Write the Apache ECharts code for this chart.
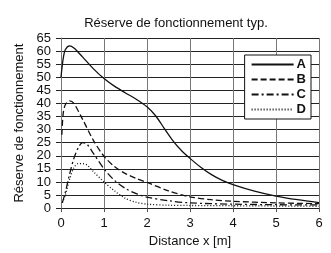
<!DOCTYPE html>
<html><head><meta charset="utf-8">
<script src="https://cdn.jsdelivr.net/npm/echarts@6/dist/echarts.min.js"></script>
<style>html,body{margin:0;padding:0;background:#fff}#c{width:331px;height:253px}</style>
</head><body><div id="c"></div>
<script>
var title = 'Réserve de fonctionnement typ.';
var xName = 'Distance x [m]';
var yName = 'Réserve de fonctionnement';
var seriesNames = ['A', 'B', 'C', 'D'];
var dataA = [[0,50],[0.05,57],[0.1,60.5],[0.2,62],[0.3,61.2],[0.5,57.8],[0.75,53.3],[1,49.5],[1.25,46.5],[1.5,44],[1.75,41.6],[2,38.7],[2.2,35.3],[2.4,30.5],[2.6,25.8],[2.8,22],[3,19],[3.25,15.6],[3.5,12.8],[3.75,10.6],[4,9],[4.5,6.5],[5,4.6],[5.5,3.2],[6,2.1]];
var dataB = [[0.02,28],[0.05,36],[0.1,39.5],[0.2,41],[0.3,40],[0.5,34],[0.75,26],[1,19.8],[1.25,15.8],[1.5,13.2],[1.75,11.3],[2,9.8],[2.5,6.6],[3,4.3],[3.5,3.2],[4,2.6],[5,2],[6,1.7]];
var dataC = [[0.03,2],[0.1,6],[0.2,13],[0.3,19],[0.4,23],[0.5,25],[0.6,24.5],[0.75,21],[1,15],[1.25,10.5],[1.5,7.5],[1.75,5.5],[2,4.2],[2.5,2.8],[3,2],[4,1.5],[5,1.3],[6,1.2]];
var dataD = [[0.03,2],[0.1,5],[0.2,11],[0.3,15.5],[0.4,17],[0.5,17],[0.6,16.5],[0.75,14],[1,10],[1.25,6.5],[1.5,3.7],[1.75,2.2],[2,1.5],[2.5,1.1],[3,1],[4,0.9],[5,0.8],[6,0.7]];
var lineTypes = ['solid', [6,3], [7,3,2,3], [1,2]];
var allData = [dataA, dataB, dataC, dataD];

var chart = echarts.init(document.getElementById('c'), null, {renderer:'canvas'});
var font = 'Liberation Sans, Arial, sans-serif';
chart.setOption({
  backgroundColor: '#fff',
  animation: false,
  title: {text: title, left: 171, top: 12, textAlign: 'center',
    textStyle: {fontFamily: font, fontSize: 13, fontWeight: 'normal', color: '#111'}},
  grid: {left: 61, right: 12, top: 38, bottom: 39},
  legend: {
    orient: 'vertical', right: 20, top: 55,
    backgroundColor: '#fff', borderColor: '#111', borderWidth: 1,
    padding: [3, 5, 3, 6], itemGap: 2, itemWidth: 42, itemHeight: 12,
    itemStyle: {color: 'rgba(0,0,0,0)', borderColor: 'rgba(0,0,0,0)', borderWidth: 0, opacity: 0},
    textStyle: {fontFamily: font, fontSize: 13, fontWeight: 'bold', color: '#111', padding: [0,0,0,-2]},
    data: seriesNames
  },
  xAxis: {
    type: 'value', min: 0, max: 6, interval: 1,
    name: xName, nameLocation: 'middle', nameGap: 26,
    nameTextStyle: {fontFamily: font, fontSize: 13, color: '#111'},
    axisLine: {show: true, lineStyle: {color: '#222', width: 1}},
    axisTick: {show: true, length: 4, lineStyle: {color: '#555'}},
    axisLabel: {fontFamily: font, fontSize: 13, color: '#111', margin: 9},
    splitLine: {show: true, lineStyle: {color: '#777', width: 1}}
  },
  yAxis: {
    type: 'value', min: 0, max: 65, interval: 5,
    name: yName, nameLocation: 'middle', nameGap: 30, nameRotate: 90,
    nameTextStyle: {fontFamily: font, fontSize: 13, color: '#111'},
    axisLine: {show: true, lineStyle: {color: '#777', width: 1}},
    axisTick: {show: true, length: 5, lineStyle: {color: '#222'}},
    axisLabel: {fontFamily: font, fontSize: 13, color: '#111', margin: 10},
    splitLine: {show: true, lineStyle: {color: '#222', width: 1}}
  },
  series: seriesNames.map(function(n, i){
    return {
      name: n, type: 'line', smooth: 0.3, showSymbol: false, symbol: 'none',
      data: allData[i],
      itemStyle: {color: '#111'},
      lineStyle: {color: '#111', width: 1.3, type: lineTypes[i]}
    };
  })
});
</script></body></html>
